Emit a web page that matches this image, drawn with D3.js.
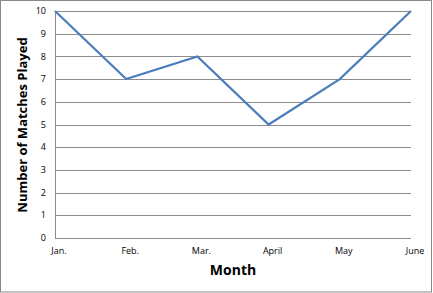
<!DOCTYPE html>
<html>
<head>
<script src="https://d3js.org/d3.v7.min.js"></script>
<style>
  body { margin: 0; background: #fff; }
  text { font-family: "Open Sans", "DejaVu Sans", sans-serif; }
</style>
</head>
<body>
<svg width="433" height="293"></svg>
<script>
const months = ["Jan.", "Feb.", "Mar.", "April", "May", "June"];
const matches = [10, 7, 8, 5, 7, 10];
const yTicks = [0, 1, 2, 3, 4, 5, 6, 7, 8, 9, 10];

const svg = d3.select("svg");
const margin = { top: 11, right: 22, bottom: 55, left: 55 };
const width = 433, height = 293;
const w = width - margin.left - margin.right;
const h = height - margin.top - margin.bottom;

// chart border
svg.append("rect")
  .attr("x", 0.5).attr("y", 0.5)
  .attr("width", width - 2).attr("height", height - 1.5)
  .attr("fill", "#fff").attr("stroke", "#888").attr("stroke-width", 1);

const g = svg.append("g").attr("transform", `translate(${margin.left},${margin.top})`);

const x = d3.scalePoint().domain(months).range([0, w]);
const y = d3.scaleLinear().domain([0, 10]).range([h, 0]);

// gridlines
g.selectAll(".grid").data(yTicks).enter().append("line")
  .attr("x1", 0).attr("x2", w)
  .attr("y1", d => Math.round(y(d)) + 0.5).attr("y2", d => Math.round(y(d)) + 0.5)
  .attr("stroke", "#8c8c8c").attr("stroke-width", 1);

g.append("line")
  .attr("x1", 0.5).attr("x2", 0.5).attr("y1", 0).attr("y2", h)
  .attr("stroke", "#8c8c8c");

// y tick labels
g.selectAll(".ylab").data(yTicks).enter().append("text")
  .attr("x", -9).attr("y", d => y(d)).attr("dy", "0.35em")
  .attr("text-anchor", "end").attr("font-size", 9).attr("fill", "#000")
  .text(d => d);

// x tick labels
g.selectAll(".xlab").data(months).enter().append("text")
  .attr("x", d => x(d) + 4).attr("y", h + 16)
  .attr("text-anchor", "middle").attr("font-size", 9).attr("fill", "#000")
  .text(d => d);

// line
const line = d3.line().x((d, i) => x(months[i])).y(d => y(d));
g.append("path").datum(matches)
  .attr("d", line).attr("fill", "none")
  .attr("stroke", "#4a7ebb").attr("stroke-width", 2.2);

// axis titles
svg.append("text")
  .attr("x", 233).attr("y", 275)
  .attr("text-anchor", "middle").attr("font-size", 14).attr("font-weight", "bold")
  .text("Month");

svg.append("text")
  .attr("transform", "translate(27,125) rotate(-90)")
  .attr("text-anchor", "middle").attr("font-size", 13).attr("font-weight", "bold")
  .text("Number of Matches Played");
</script>
</body>
</html>
